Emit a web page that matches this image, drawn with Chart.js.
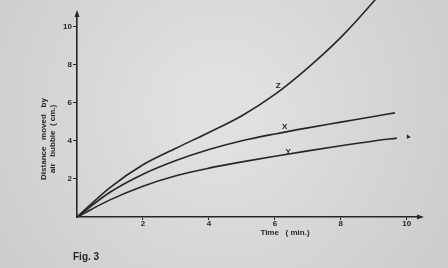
<!DOCTYPE html>
<html>
<head>
<meta charset="utf-8">
<script src="https://cdn.jsdelivr.net/npm/chart.js@4.4.1/dist/chart.umd.min.js"></script>
<style>
html,body{margin:0;padding:0;background:#dcdedd;}
#wrap{position:relative;width:448px;height:268px;}
canvas{display:block;}
</style>
</head>
<body>
<div id="wrap"><canvas id="c" width="448" height="268"></canvas></div>
<script>
// Data (time in min, distance in cm)
const zTime = [0, 1, 2, 3, 4, 5, 6, 7, 8, 9, 9.5];
const zDist = [0, 1.55, 2.75, 3.62, 4.45, 5.33, 6.45, 7.85, 9.45, 11.35, 12.4];
const xTime = [0, 1, 2, 3, 4, 5, 6, 7, 8, 9, 9.64];
const xDist = [0, 1.3, 2.25, 2.97, 3.55, 4.01, 4.37, 4.69, 4.99, 5.29, 5.48];
const yTime = [0, 1, 2, 3, 4, 5, 6, 7, 8, 9, 9.7];
const yDist = [0, 0.9, 1.62, 2.17, 2.57, 2.9, 3.2, 3.48, 3.75, 4.0, 4.15];
const curveNames = ['Z', 'X', 'Y'];
const xTicks = [2, 4, 6, 8, 10];
const yTicks = [2, 4, 6, 8, 10];

const toPts = (t, d) => t.map((v, i) => ({x: v, y: d[i]}));
const ink = '#262626';
const FONT = '"Liberation Sans", Arial, sans-serif';

const bgPlugin = {
  id: 'bg',
  beforeDraw(chart) {
    const ctx = chart.ctx;
    const g = ctx.createRadialGradient(220, 110, 30, 220, 110, 300);
    g.addColorStop(0, '#e0e2e1');
    g.addColorStop(1, '#c8cac9');
    ctx.save();
    ctx.fillStyle = g;
    ctx.fillRect(0, 0, chart.width, chart.height);
    ctx.restore();
  }
};

const textPlugin = {
  id: 'texts',
  afterDraw(chart) {
    const ctx = chart.ctx;
    const a = chart.chartArea;
    ctx.save();
    ctx.fillStyle = ink;
    ctx.strokeStyle = ink;
    // arrows
    ctx.beginPath();
    ctx.moveTo(a.left, a.top - 4);
    ctx.lineTo(a.left - 2.5, a.top + 3);
    ctx.lineTo(a.left + 2.5, a.top + 3);
    ctx.closePath();
    ctx.fill();
    ctx.beginPath();
    ctx.moveTo(a.right + 4, a.bottom);
    ctx.lineTo(a.right - 3, a.bottom - 2.5);
    ctx.lineTo(a.right - 3, a.bottom + 2.5);
    ctx.closePath();
    ctx.fill();
    // y title (two lines, rotated)
    ctx.font = 'bold 8px ' + FONT;
    ctx.textAlign = 'center';
    ctx.textBaseline = 'middle';
    ctx.save();
    ctx.translate(44, 139);
    ctx.rotate(-Math.PI / 2);
    ctx.fillText('Distance   moved   by', 0, 0);
    ctx.restore();
    ctx.save();
    ctx.translate(53, 139);
    ctx.rotate(-Math.PI / 2);
    ctx.fillText('air   bubble  ( cm.)', 0, 0);
    ctx.restore();
    // x title
    ctx.fillText('Time   ( min.)', 285, 233);
    // Fig label
    ctx.font = 'bold 10px ' + FONT;
    ctx.textAlign = 'left';
    ctx.fillText('Fig. 3', 73, 257);
    // curve labels
    ctx.font = 'bold 8px ' + FONT;
    ctx.textAlign = 'center';
    const xs = chart.scales.x, ys = chart.scales.y;
    const lab = [[6.1, 6.9], [6.3, 4.75], [6.4, 3.45]];
    curveNames.forEach((n, i) => {
      ctx.fillText(n, xs.getPixelForValue(lab[i][0]), ys.getPixelForValue(lab[i][1]));
    });
    // small stray mark near the end of the curves
    ctx.beginPath();
    ctx.moveTo(xs.getPixelForValue(10.0), ys.getPixelForValue(4.35));
    ctx.lineTo(xs.getPixelForValue(10.12), ys.getPixelForValue(4.2));
    ctx.lineTo(xs.getPixelForValue(10.0), ys.getPixelForValue(4.12));
    ctx.closePath();
    ctx.fill();
    ctx.restore();
  }
};

const lineDs = (label, t, d) => ({
  label,
  data: toPts(t, d),
  borderColor: ink,
  borderWidth: 1.6,
  pointRadius: 0,
  fill: false,
  cubicInterpolationMode: 'monotone',
  clip: false
});

new Chart(document.getElementById('c'), {
  type: 'line',
  data: {
    datasets: [
      lineDs(curveNames[0], zTime, zDist),
      lineDs(curveNames[1], xTime, xDist),
      lineDs(curveNames[2], yTime, yDist)
    ]
  },
  options: {
    responsive: false,
    animation: false,
    layout: {padding: {top: 14, right: 28, left: 0, bottom: 0}},
    plugins: {legend: {display: false}, tooltip: {enabled: false}},
    scales: {
      x: {
        type: 'linear',
        min: 0,
        max: 10.4,
        afterFit(s) { s.height = 51; },
        afterBuildTicks(s) { s.ticks = xTicks.map(v => ({value: v})); },
        ticks: {
          color: ink,
          padding: -1,
          font: {family: FONT, size: 8, weight: 'bold'},
          maxRotation: 0
        },
        grid: {drawOnChartArea: false, drawTicks: true, tickLength: 3, color: ink, lineWidth: 1},
        border: {display: true, color: ink, width: 1.6}
      },
      y: {
        type: 'linear',
        min: 0,
        max: 10.68,
        afterFit(s) { s.width = 77; },
        afterBuildTicks(s) { s.ticks = yTicks.map(v => ({value: v})); },
        ticks: {
          color: ink,
          padding: 1,
          font: {family: FONT, size: 8, weight: 'bold'}
        },
        grid: {drawOnChartArea: false, drawTicks: true, tickLength: 4, color: ink, lineWidth: 1},
        border: {display: true, color: ink, width: 1.6}
      }
    }
  },
  plugins: [bgPlugin, textPlugin]
});
</script>
</body>
</html>
